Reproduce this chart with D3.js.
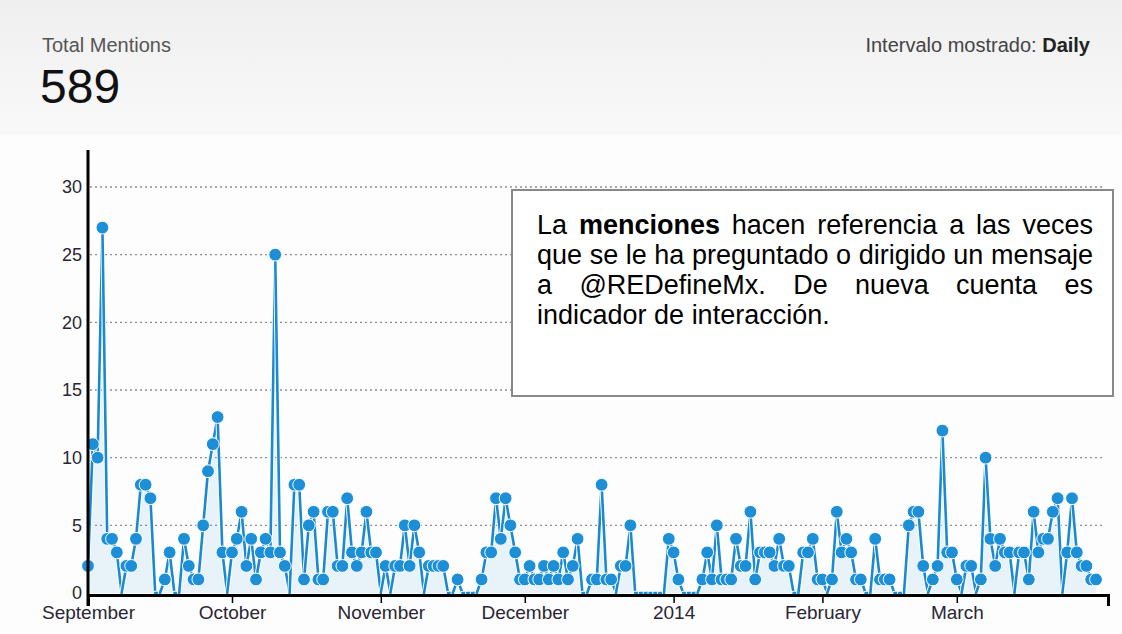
<!DOCTYPE html>
<html>
<head>
<meta charset="utf-8">
<script src="https://cdn.jsdelivr.net/npm/d3@7"></script>
<style>
  body { margin: 0; background: #fff; }
  svg { display: block; font-family: "Liberation Sans", Arial, sans-serif; }
</style>
</head>
<body>
<script>
// daily mentions, one array per month (Sep 2013 - Mar 2014)
const startDay = '2013-09-01'
const sepValues = [2,11,10,27,4,4,3,0,2,2, 4,8,8,7,0,0,1,3,0,0, 4,2,1,1,5,9,11,13,3,0]
const octValues = [3,4,6,2,4,1,3,4,3,25, 3,2,0,8,8,1,5,6,1,1, 6,6,2,2,7,3,2,3,6,3,3]
const novValues = [0,2,0,2,2,5,2,5,3,0, 2,2,2,2,0,0,1,0,0,0, 0,1,3,3,7,4,7,5,3,1]
const decValues = [1,2,1,1,2,1,2,1,3,1, 2,4,0,0,1,1,8,1,1,0, 2,2,5,0,0,0,0,0,0,0,4]
const janValues = [3,1,0,0,0,0,1,3,1,5, 1,1,1,4,2,2,6,1,3,3, 3,2,4,2,2,0,0,3,3,4,1]
const febValues = [1,0,1,6,3,4,3,1,1,0, 0,4,1,1,1,0,0,0,5,6, 6,2,0,1,2,12,3,3]
const marValues = [1,0,2,2,0,1,10,4,2,4, 3,3,0,3,3,1,6,3,4,4, 6,7,0,3,7,3,2,2,1,1]

const monthStarts = ['2013-09-01','2013-10-01','2013-11-01','2013-12-01','2014-01-01','2014-02-01','2014-03-01']
const monthLabels = ['September','October','November','December','2014','February','March']
const yTicks = [0,5,10,15,20,25,30]

const totalLabel = 'Total Mentions'
const totalValue = '589'
const intervalLabel = 'Intervalo mostrado: '
const intervalValue = 'Daily'

// note lines: [text, bold]
const noteLines = [
  [['La',0],['menciones',1],['hacen',0],['referencia',0],['a',0],['las',0],['veces',0]],
  [['que',0],['se',0],['le',0],['ha',0],['preguntado',0],['o',0],['dirigido',0],['un',0],['mensaje',0]],
  [['a',0],['@REDefineMx.',0],['De',0],['nueva',0],['cuenta',0],['es',0]],
  [['indicador',0],['de',0],['interacción.',0]]
]

const parse = d3.timeParse('%Y-%m-%d')
const start = parse(startDay)
const values = [].concat(sepValues, octValues, novValues, decValues, janValues, febValues, marValues)
const data = values.map((v, i) => ({date: d3.timeDay.offset(start, i), value: v}))

const W = 1122, H = 634
const svg = d3.select('body').append('svg').attr('width', W).attr('height', H)

// header band
const defs = svg.append('defs')
const grad = defs.append('linearGradient').attr('id','hdr').attr('x1',0).attr('x2',0).attr('y1',0).attr('y2',1)
grad.append('stop').attr('offset','0%').attr('stop-color','#efefef')
grad.append('stop').attr('offset','100%').attr('stop-color','#f9f9f9')
svg.append('rect').attr('x',0).attr('y',0).attr('width',W).attr('height',135).attr('fill','url(#hdr)')
svg.append('rect').attr('x',0).attr('y',135).attr('width',W).attr('height',H-135).attr('fill','#fdfdfd')

svg.append('text').attr('x',42).attr('y',52).attr('font-size',20).attr('fill','#555').text(totalLabel)
svg.append('text').attr('x',40).attr('y',103).attr('font-size',48).attr('fill','#111').text(totalValue)
const iv = svg.append('text').attr('x',1090).attr('y',52).attr('text-anchor','end').attr('font-size',20).attr('fill','#444')
iv.append('tspan').text(intervalLabel)
iv.append('tspan').attr('font-weight','bold').attr('fill','#222').text(intervalValue)

// scales
const x = d3.scaleTime()
  .domain([start, d3.timeHour.offset(parse('2014-04-01'), 12)])
  .range([88, 1108])
const y = d3.scaleLinear().domain([0, 30]).range([593, 187])

// grid
svg.append('g').selectAll('line')
  .data(yTicks.filter(d => d > 0))
  .enter().append('line')
  .attr('x1', 90).attr('x2', 1102)
  .attr('y1', d => y(d)).attr('y2', d => y(d))
  .attr('stroke', '#8f8f8f').attr('stroke-width', 1.3).attr('stroke-dasharray', '2,3')

// area
svg.append('path')
  .datum(data)
  .attr('fill', 'rgba(40,150,215,0.10)')
  .attr('d', d3.area().x(d => x(d.date)).y0(y(0)).y1(d => y(d.value)))

// line segments with white casing
const segs = d3.pairs(data)
const segG = svg.append('g')
segs.forEach(function(p) {
  segG.append('line')
    .attr('x1', x(p[0].date)).attr('y1', y(p[0].value))
    .attr('x2', x(p[1].date)).attr('y2', y(p[1].value))
    .attr('stroke', '#fff').attr('stroke-width', 4.5).attr('stroke-linecap','round')
  segG.append('line')
    .attr('x1', x(p[0].date)).attr('y1', y(p[0].value))
    .attr('x2', x(p[1].date)).attr('y2', y(p[1].value))
    .attr('stroke', '#1a8ad0').attr('stroke-width', 2.6).attr('stroke-linecap','round')
})

// points
svg.append('g').selectAll('circle')
  .data(data.filter(d => d.value > 0))
  .enter().append('circle')
  .attr('cx', d => x(d.date))
  .attr('cy', d => y(d.value))
  .attr('r', 6.4)
  .attr('fill', '#1d8fd6')
  .attr('stroke', '#fff')
  .attr('stroke-width', 1)

// axes
const xAxis = d3.axisBottom(x)
  .tickValues(monthStarts.map(parse))
  .tickFormat((d, i) => monthLabels[i])
  .tickSizeInner(8).tickSizeOuter(11).tickPadding(3)
const gx = svg.append('g').attr('transform', 'translate(0,595)').call(xAxis)
gx.select('.domain').attr('stroke', '#000').attr('stroke-width', 3)
gx.selectAll('.tick line').attr('stroke', '#000').attr('stroke-width', 1.5)
gx.selectAll('.tick text').attr('font-size', 19).attr('fill', '#2a2635')
  .attr('font-family', '"Liberation Sans", Arial, sans-serif')

const yAxis = d3.axisLeft(y).tickValues(yTicks).tickSize(0).tickPadding(6)
const gy = svg.append('g').attr('transform', 'translate(88,0)').call(yAxis)
gy.select('.domain').remove()
gy.selectAll('.tick text').attr('font-size', 18).attr('fill', '#2a2635')
  .attr('font-family', '"Liberation Sans", Arial, sans-serif')
svg.append('line').attr('x1', 88).attr('x2', 88).attr('y1', 150).attr('y2', 606)
  .attr('stroke', '#000').attr('stroke-width', 3)

// note box
svg.append('rect').attr('x', 512).attr('y', 190).attr('width', 601).attr('height', 206)
  .attr('fill', '#fff').attr('stroke', '#888').attr('stroke-width', 2)

const noteX = 537, noteW = 556, noteY0 = 234, noteLH = 30
const noteG = svg.append('g').attr('font-size', 27).attr('fill', '#000')
noteLines.forEach(function(line, li) {
  const words = line.map(w => noteG.append('text')
    .attr('y', noteY0 + li * noteLH)
    .attr('font-weight', w[1] ? 'bold' : 'normal')
    .text(w[0]))
  const widths = words.map(t => t.node().getComputedTextLength())
  const total = d3.sum(widths)
  const last = li === noteLines.length - 1
  const gap = last ? 27 * 0.278 : (noteW - total) / (words.length - 1)
  let cx = noteX
  words.forEach(function(t, i) {
    t.attr('x', cx)
    cx += widths[i] + gap
  })
})
</script>
</body>
</html>
